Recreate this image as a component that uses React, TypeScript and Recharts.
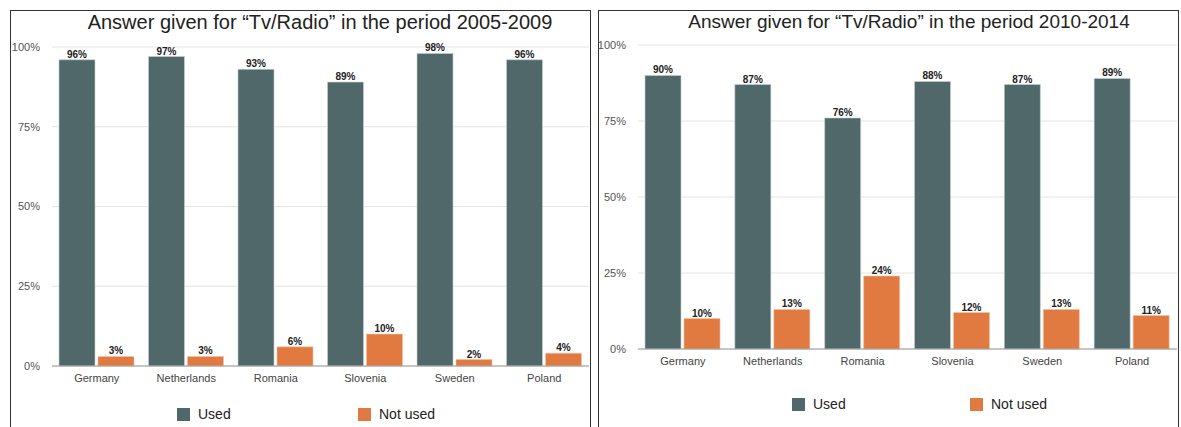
import { BarChart, Bar, XAxis, YAxis, CartesianGrid, LabelList } from "recharts";

const countries = ["Germany", "Netherlands", "Romania", "Slovenia", "Sweden", "Poland"];
const used0509 = [96, 97, 93, 89, 98, 96];
const notUsed0509 = [3, 3, 6, 10, 2, 4];
const used1014 = [90, 87, 76, 88, 87, 89];
const notUsed1014 = [10, 13, 24, 12, 13, 11];
const yTicks = [0, 25, 50, 75, 100];

const USED = "#506869";
const NOT_USED = "#e07a40";
const FONT = "'Liberation Sans', Arial, Helvetica, sans-serif";

const pct = (v: any) => `${v}%`;

function build(used: number[], notUsed: number[]) {
  return countries.map((c, i) => ({ name: c, used: used[i], notUsed: notUsed[i] }));
}

type PanelProps = {
  title: string;
  used: number[];
  notUsed: number[];
  boxLeft: number;
  boxWidth: number;
  chartLeft: number;
  chartWidth: number;
  margin: { top: number; right: number; left: number; bottom: number };
  yWidth: number;
  titleX: number;
  titleSize: number;
  legendY: number;
  legendX: number[];
};

function Panel(p: PanelProps) {
  const data = build(p.used, p.notUsed);
  const legend = [
    { label: "Used", color: USED },
    { label: "Not used", color: NOT_USED },
  ];
  return (
    <>
      <div
        style={{
          position: "absolute",
          left: p.boxLeft,
          top: 10,
          width: p.boxWidth,
          height: 440,
          border: "1px solid #333",
          boxSizing: "border-box",
        }}
      />
      <div
        style={{
          position: "absolute",
          left: p.titleX - 300,
          width: 600,
          top: 11,
          textAlign: "center",
          fontSize: p.titleSize,
          color: "#222",
        }}
      >
        {p.title}
      </div>
      <div style={{ position: "absolute", left: p.chartLeft, top: 0 }}>
        <BarChart width={p.chartWidth} height={427} data={data} margin={p.margin} barGap={3} barSize={36}>
          <CartesianGrid vertical={false} stroke="#e4e4e4" />
          <XAxis
            dataKey="name"
            axisLine={{ stroke: "#9a9a9a" }}
            tickLine={false}
            tick={{ fill: "#444", fontSize: 11 }}
          />
          <YAxis
            width={p.yWidth}
            domain={[0, 100]}
            ticks={yTicks}
            tickFormatter={pct}
            axisLine={false}
            tickLine={false}
            tickMargin={6}
            tick={{ fill: "#555", fontSize: 11 }}
          />
          <Bar dataKey="used" fill={USED} stroke="#c9d2d2" strokeWidth={0.6} isAnimationActive={false}>
            <LabelList dataKey="used" position="top" offset={2} formatter={pct} style={{ fill: "#222", fontSize: 10, fontWeight: "bold" }} />
          </Bar>
          <Bar dataKey="notUsed" fill={NOT_USED} stroke="#f2c2a4" strokeWidth={0.6} isAnimationActive={false}>
            <LabelList dataKey="notUsed" position="top" offset={2} formatter={pct} style={{ fill: "#222", fontSize: 10, fontWeight: "bold" }} />
          </Bar>
        </BarChart>
      </div>
      {legend.map((l, i) => (
        <div key={l.label} style={{ position: "absolute", left: p.legendX[i], top: p.legendY - 7, display: "flex", alignItems: "center" }}>
          <div style={{ width: 13, height: 13, background: l.color, marginRight: 8 }} />
          <span style={{ fontSize: 14, color: "#222" }}>{l.label}</span>
        </div>
      ))}
    </>
  );
}

export default function App() {
  return (
    <div
      style={{
        position: "absolute",
        left: 0,
        top: 0,
        width: 1181,
        height: 427,
        overflow: "hidden",
        background: "#fff",
        fontFamily: FONT,
      }}
    >
      <Panel
        title={"Answer given for \u201cTv/Radio\u201d in the period 2005-2009"}
        used={used0509}
        notUsed={notUsed0509}
        boxLeft={10}
        boxWidth={581}
        chartLeft={0}
        chartWidth={589}
        margin={{ top: 47, right: 0, left: 12, bottom: 31 }}
        yWidth={40}
        titleX={320}
        titleSize={20}
        legendY={413}
        legendX={[177, 358]}
      />
      <Panel
        title={"Answer given for \u201cTv/Radio\u201d in the period 2010-2014"}
        used={used1014}
        notUsed={notUsed1014}
        boxLeft={598}
        boxWidth={581}
        chartLeft={599}
        chartWidth={578}
        margin={{ top: 45, right: 0, left: 7, bottom: 48 }}
        yWidth={32}
        titleX={909}
        titleSize={19}
        legendY={403}
        legendX={[792, 970]}
      />
    </div>
  );
}
